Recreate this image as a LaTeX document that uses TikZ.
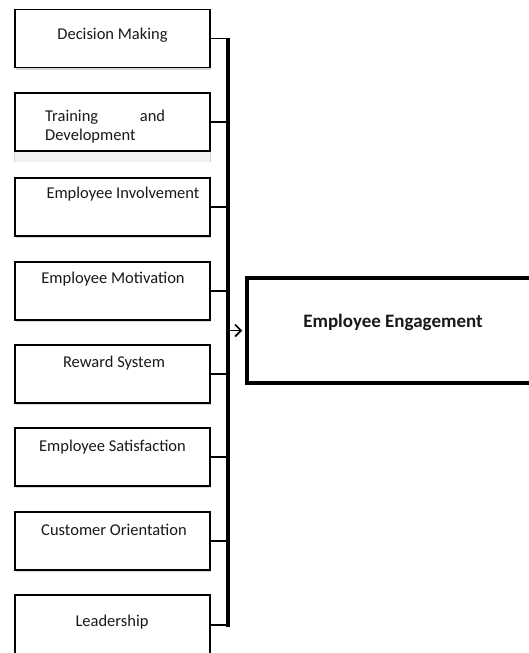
\documentclass[tikz,border=0pt]{standalone}
\usepackage{fontspec}
\setmainfont{Carlito}
\usetikzlibrary{shadows,arrows.meta}

\tikzset{
  factor/.style={draw, line width=1.7pt, fill=white, minimum width=195pt,
    minimum height=58pt, inner sep=0pt,
    drop shadow={shadow xshift=0.6pt, shadow yshift=-2pt, opacity=0.3}},
  factortext/.style={font=\fontsize{16.5}{19}\selectfont, text=black!90, inner sep=0pt},
  link/.style={line width=1.7pt},
  bus/.style={line width=3.2pt},
}

\begin{document}
\begin{tikzpicture}[x=1pt, y=-1pt, line join=miter]
    \useasboundingbox (0,0) rectangle (528,653);

    % factor boxes on the left
    \node[factor] (dm)  at (112.5, 38.5) {};
    \node[factor] (td)  at (112.5, 122) {};
    \node[factor] (inv) at (112.5, 207) {};
    \node[factor] (mot) at (112.5, 291) {};
    \node[factor] (rew) at (112.5, 374) {};
    \node[factor] (sat) at (112.5, 457) {};
    \node[factor] (cus) at (112.5, 541) {};
    \node[factor, minimum height=60pt] (ld) at (112.5, 625) {};

    % faint band under the second box
    \fill[black!5] (td.south west) rectangle ([yshift=-10pt]td.south east);
    \draw[black!18, line width=0.8pt] (td.south west) -- ([yshift=-10pt]td.south west);
    \draw[black!18, line width=0.8pt] (td.south east) -- ([yshift=-10pt]td.south east);

    \node[factortext] (dm-t)  at (112.5, 35) {Decision Making};
    \node[factortext, text width=120pt, align=left, anchor=north west] (td-t) at (45, 110)
        {Training \hfill and\\Development};
    \node[factortext] (inv-t) at (123, 194) {Employee Involvement};
    \node[factortext] (mot-t) at (113, 279) {Employee Motivation};
    \node[factortext] (rew-t) at (114, 363) {Reward System};
    \node[factortext] (sat-t) at (112.5, 447) {Employee Satisfaction};
    \node[factortext] (cus-t) at (114, 530) {Customer Orientation};
    \node[factortext] (ld-t)  at (112, 622) {Leadership};

    % outcome box
    \node[draw, line width=4.5pt, fill=white, minimum width=285pt, minimum height=105pt,
          drop shadow={shadow xshift=0.8pt, shadow yshift=-2pt, opacity=0.3}]
          (ee) at (389.5, 330.5) {};
    \node[font=\fontsize{19}{22}\selectfont\bfseries, text=black!90, inner sep=0pt]
          (ee-t) at (393, 322) {Employee Engagement};

    % collecting line
    \coordinate (busx) at (228, 0);
    \foreach \f in {dm, td, inv, mot, rew, sat, cus, ld}
        \draw[link] (\f.east) -- (\f.east -| busx);
    \draw[bus] ([yshift=0.85pt]dm.east -| busx) -- ([yshift=-1.6pt]ld.east -| busx);

    \draw[link, -{Straight Barb[length=6pt, width=12pt]}] (ee.west -| busx) -- ([xshift=-2.5pt]ee.west);
\end{tikzpicture}
\end{document}
